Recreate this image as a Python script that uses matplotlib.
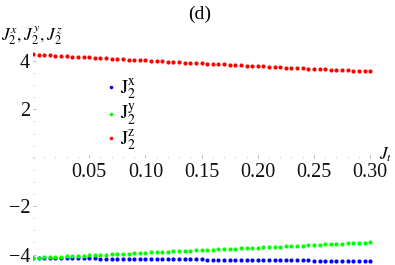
import matplotlib
matplotlib.use("Agg")
import matplotlib.pyplot as plt
from matplotlib.ticker import MultipleLocator, FixedLocator

plt.rcParams['font.family'] = ['Liberation Serif', 'DejaVu Serif']
plt.rcParams['mathtext.fontset'] = 'stix'

# x grid (J_t)
jt = [0.000, 0.005, 0.010, 0.015, 0.020, 0.025, 0.030, 0.035, 0.040, 0.045,
      0.050, 0.055, 0.060, 0.065, 0.070, 0.075, 0.080, 0.085, 0.090, 0.095,
      0.100, 0.105, 0.110, 0.115, 0.120, 0.125, 0.130, 0.135, 0.140, 0.145,
      0.150, 0.155, 0.160, 0.165, 0.170, 0.175, 0.180, 0.185, 0.190, 0.195,
      0.200, 0.205, 0.210, 0.215, 0.220, 0.225, 0.230, 0.235, 0.240, 0.245,
      0.250, 0.255, 0.260, 0.265, 0.270, 0.275, 0.280, 0.285, 0.290, 0.295,
      0.300]

j2x = [-4.140, -4.142, -4.144, -4.147, -4.149, -4.151, -4.153, -4.155, -4.157, -4.160,
       -4.162, -4.164, -4.166, -4.168, -4.170, -4.173, -4.175, -4.177, -4.179, -4.181,
       -4.183, -4.186, -4.188, -4.190, -4.192, -4.194, -4.196, -4.199, -4.201, -4.203,
       -4.205, -4.207, -4.209, -4.212, -4.214, -4.216, -4.218, -4.220, -4.222, -4.225,
       -4.227, -4.229, -4.231, -4.233, -4.235, -4.238, -4.240, -4.242, -4.244, -4.246,
       -4.248, -4.251, -4.253, -4.255, -4.257, -4.259, -4.261, -4.264, -4.266, -4.268,
       -4.270]

j2y = [-4.140, -4.129, -4.119, -4.108, -4.097, -4.087, -4.076, -4.065, -4.055, -4.044,
       -4.033, -4.023, -4.012, -4.001, -3.991, -3.980, -3.969, -3.959, -3.948, -3.937,
       -3.927, -3.916, -3.905, -3.895, -3.884, -3.873, -3.863, -3.852, -3.841, -3.831,
       -3.820, -3.809, -3.799, -3.788, -3.777, -3.767, -3.756, -3.745, -3.735, -3.724,
       -3.713, -3.703, -3.692, -3.681, -3.671, -3.660, -3.649, -3.639, -3.628, -3.617,
       -3.607, -3.596, -3.585, -3.575, -3.564, -3.553, -3.543, -3.532, -3.521, -3.511,
       -3.500]

j2z = [4.270, 4.257, 4.244, 4.231, 4.218, 4.205, 4.193, 4.180, 4.167, 4.155,
       4.142, 4.130, 4.117, 4.105, 4.092, 4.080, 4.067, 4.055, 4.043, 4.031,
       4.018, 4.006, 3.994, 3.982, 3.970, 3.958, 3.946, 3.934, 3.922, 3.911,
       3.899, 3.887, 3.875, 3.864, 3.852, 3.841, 3.829, 3.818, 3.806, 3.795,
       3.783, 3.772, 3.761, 3.750, 3.738, 3.727, 3.716, 3.705, 3.694, 3.683,
       3.672, 3.661, 3.650, 3.639, 3.629, 3.618, 3.607, 3.597, 3.586, 3.575,
       3.565]

xticks = [0.05, 0.10, 0.15, 0.20, 0.25, 0.30]
xticklabels = ["0.05", "0.10", "0.15", "0.20", "0.25", "0.30"]
yticks = [-4, -2, 2, 4]
yticklabels = ["\u22124", "\u22122", "2", "4"]

fig = plt.figure(figsize=(3.95, 2.65), dpi=100)
ax = fig.add_axes([33/395, 2/265, 352/395, 223/265])
ax.set_xlim(0, 0.3132)
ax.set_ylim(-4.351, 4.864)

ms = 3.0
ax.plot(jt, j2x, 'o', color='#0000ff', ms=ms, mec='none', label=r'$\mathrm{J}_2^\mathrm{x}$')
ax.plot(jt, j2y, 'o', color='#00ff00', ms=ms, mec='none', label=r'$\mathrm{J}_2^\mathrm{y}$')
ax.plot(jt, j2z, 'o', color='#ff0000', ms=ms, mec='none', label=r'$\mathrm{J}_2^\mathrm{z}$')

for side in ['top', 'right']:
    ax.spines[side].set_visible(False)
ax.spines['left'].set_position(('data', 0))
ax.spines['bottom'].set_position(('data', 0))
ax.spines['left'].set_color('none')
ax.spines['bottom'].set_color('none')

ax.xaxis.set_major_locator(FixedLocator(xticks))
ax.set_xticklabels(xticklabels)
ax.xaxis.set_minor_locator(MultipleLocator(0.01))
ax.yaxis.set_major_locator(FixedLocator(yticks))
ax.set_yticklabels(yticklabels)
ax.yaxis.set_minor_locator(MultipleLocator(0.5))

ax.tick_params(axis='both', which='major', direction='in', length=2.5, width=0.6,
               color='#aaaaaa', labelsize=14.5, labelcolor='#111111')
ax.tick_params(axis='both', which='minor', direction='in', length=1.5, width=0.5,
               color='#cccccc')
ax.tick_params(axis='x', which='major', pad=4)
ax.tick_params(axis='y', which='major', pad=2)
ax.patch.set_visible(False)

leg = ax.legend(loc='upper left', bbox_to_anchor=(95/395, 1 - 68/265),
                bbox_transform=fig.transFigure, frameon=False, fontsize=14,
                handlelength=0.6, handletextpad=0.2, labelspacing=0.02,
                borderpad=0, markerscale=0.85)

fig.text(200/395, 1 - 14/265, "(d)", ha='center', va='center', fontsize=14)
fig.text(1/395, 1 - 36/265, r"$J_2^x,J_2^y,J_2^z$", ha='left', va='center', fontsize=12.5)
fig.text(386/395, 1 - 155/265, r"$J_t$", ha='center', va='center', fontsize=12.5)

fig.savefig("out.png", dpi=100)
